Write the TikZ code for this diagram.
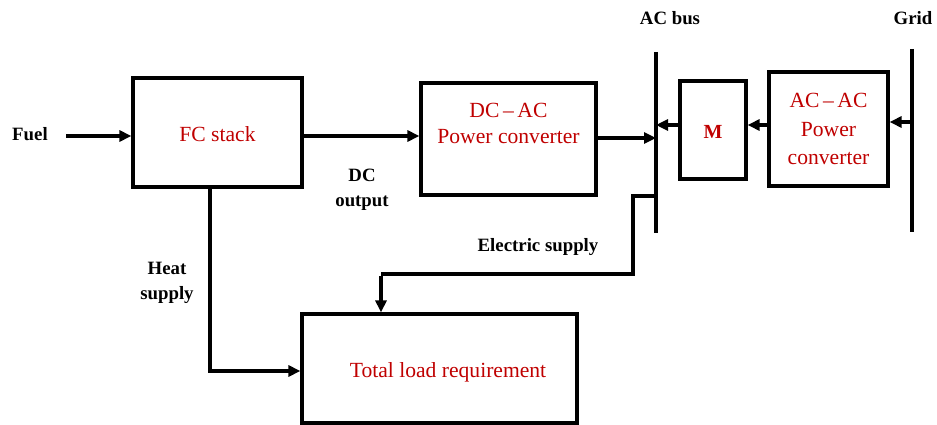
\documentclass[tikz,border=0pt]{standalone}
\usepackage{fontspec}
\setmainfont{Liberation Serif}
\usetikzlibrary{arrows.meta}
\definecolor{boxred}{RGB}{192,0,0}
\tikzset{
  blk/.style={draw=black, line width=3.2pt, fill=white, inner sep=0pt},
  redtxt/.style={text=boxred, font=\fontsize{21.6}{26.5}\selectfont, align=center, inner sep=0pt},
  lbl/.style={text=black, font=\fontsize{18.8}{25}\selectfont\bfseries, align=center, inner sep=0pt},
  conn/.style={line width=3.2pt, -{Triangle[length=12pt,width=11pt]}},
  wire/.style={line width=3.2pt},
  busline/.style={line width=3.2pt}
}
\begin{document}
\begin{tikzpicture}[x=1pt,y=-1pt]
\useasboundingbox (0,0) rectangle (937,425);
% boxes
\node[blk, minimum width=169pt, minimum height=109pt] (fc) at (217.5,132.5) {};
\node[redtxt] (fctxt) at (217.5,134) {FC stack};
\node[blk, minimum width=175pt, minimum height=112pt] (dcac) at (508.5,139) {};
\node[redtxt] (dcactxt) at (508.5,123.5) {DC\,–\,AC\\Power converter};
\node[blk, minimum width=66pt, minimum height=98pt] (m) at (713,130) {};
\node[redtxt, font=\fontsize{20}{24}\selectfont\bfseries] (mtxt) at (713,132) {M};
\node[blk, minimum width=119pt, minimum height=114pt] (acac) at (828.5,129) {};
\node[redtxt, font=\fontsize{21.6}{28.5}\selectfont] (acactxt) at (828.5,129) {AC\,–\,AC\\Power\\converter};
\node[blk, minimum width=275pt, minimum height=109pt] (load) at (439.5,368.5) {};
\node[redtxt] (loadtxt) at (448,372) {Total load requirement};
% buses
\coordinate (bustop) at (656,52);
\coordinate (busbot) at (656,233);
\coordinate (gridtop) at (912,49);
\coordinate (gridbot) at (912,232);
\draw[busline] (bustop) -- (busbot);
\draw[busline] (gridtop) -- (gridbot);
% labels
\node[lbl] (fuel) at (30,134) {Fuel};
\node[lbl] (acbus) at (670,18) {AC bus};
\node[lbl] (grid) at (913,18) {Grid};
\node[lbl] (dcout) at (362,190) {DC\\output};
\node[lbl] (heat) at (167,283) {Heat\\supply};
\node[lbl] (elec) at (538,247) {Electric supply};
% connectors
\coordinate (fuelstart) at (66,136);
\draw[conn] (fuelstart) -- (fuelstart -| fc.west);
\coordinate (fcout) at (302,136);
\draw[conn] (fcout) -- (fcout -| dcac.west);
\coordinate (dcacout) at (596,138);
\draw[conn] (dcacout) -- (dcacout -| bustop);
\coordinate (gridout) at (912,122);
\draw[conn] (gridout) -- (gridout -| acac.east);
\coordinate (acacout) at (769,125);
\draw[conn] (acacout) -- (acacout -| m.east);
\coordinate (mout) at (680,125);
\draw[conn] (mout) -- (mout -| bustop);
% electric supply
\coordinate (etap) at (656,196);
\coordinate (ecorner) at (633,196);
\coordinate (ebend) at (633,274);
\coordinate (edrop) at (381,274);
\draw[wire, line join=miter] (etap) -- (ecorner) -- (ebend) -- (edrop);
\draw[conn] ([yshift=-1.6pt]edrop) -- (edrop |- load.north);
% heat supply
\coordinate (hstart) at (210,187);
\coordinate (hbend) at (210,371);
\draw[wire] (hstart) -- (hbend);
\draw[conn] ([xshift=-1.6pt]hbend) -- (hbend -| load.west);
\end{tikzpicture}
\end{document}
